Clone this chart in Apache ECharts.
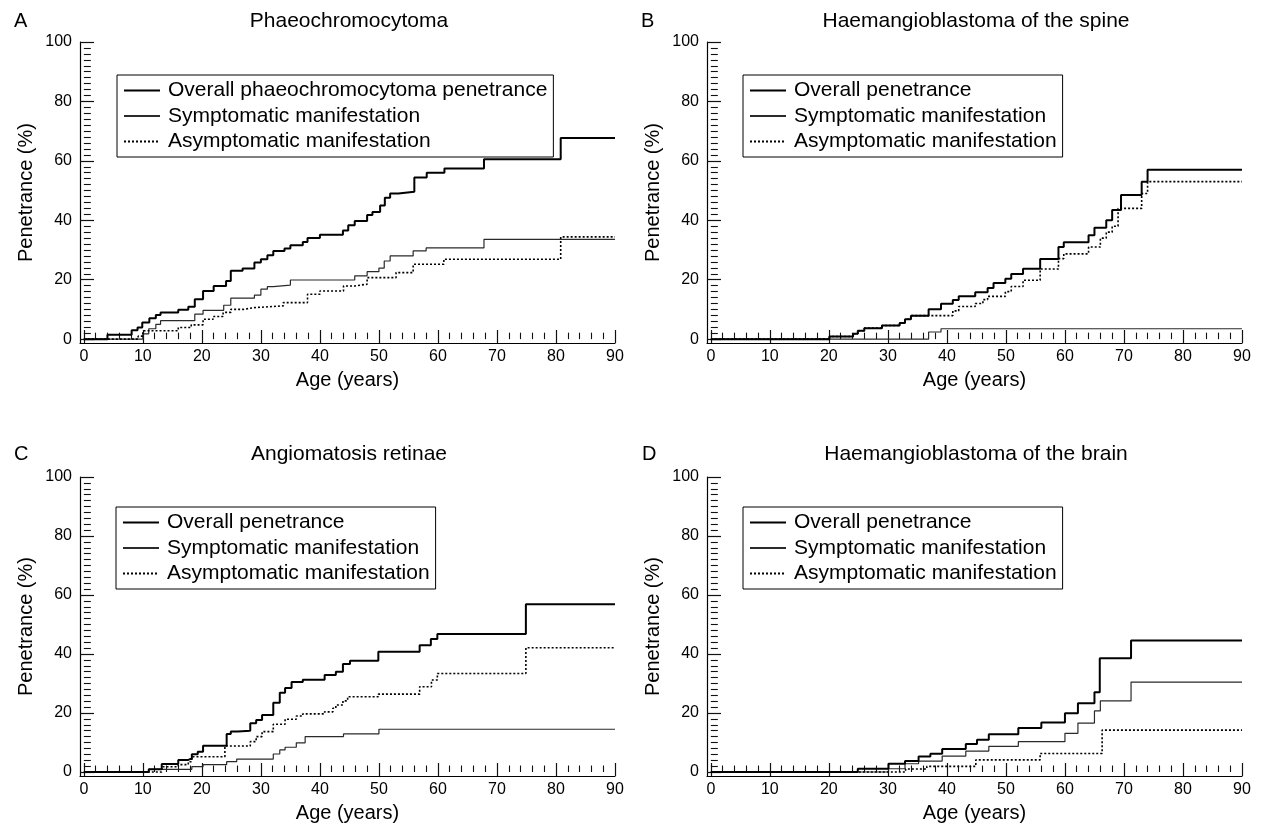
<!DOCTYPE html>
<html><head><meta charset="utf-8">
<script src="https://cdn.jsdelivr.net/npm/echarts@6/dist/echarts.min.js"></script>
<style>html,body{margin:0;padding:0;background:#fff}#c{width:1261px;height:831px}</style>
</head><body><div id="c"></div><script>
// ---------- tick labels ----------
const ageTicks = [0, 10, 20, 30, 40, 50, 60, 70, 80, 90];
const penTicks = [0, 20, 40, 60, 80, 100];

// ---------- text ----------
const panelLetters = ['A', 'B', 'C', 'D'];
const panelTitles = ['Phaeochromocytoma', 'Haemangioblastoma of the spine', 'Angiomatosis retinae', 'Haemangioblastoma of the brain'];
const overallNames = ['Overall phaeochromocytoma penetrance', 'Overall penetrance', 'Overall penetrance', 'Overall penetrance'];
const sympName = 'Symptomatic manifestation';
const asympName = 'Asymptomatic manifestation';
const xName = 'Age (years)';
const yName = 'Penetrance (%)';

// ---------- data: [age, penetrance %] (value holds from that age on) ----------
const phaeoOverall = [[0,0],[4,1.5],[8.1,3],[9.1,3.9],[9.9,5.6],[11.1,7],[12.2,8.1],[13,9],[16,9.9],[17.7,10.9],[18.8,13.4],[20.2,16.2],[22,17.9],[24.1,19.6],[24.9,23],[26.9,23.8],[28.9,25.8],[30,26.9],[31.1,28.2],[32.1,29.7],[34,30.5],[35,31.6],[37.1,32.7],[37.9,34],[40,35.1],[43.9,36.6],[44.8,38.3],[45.9,39.8],[48,41.8],[48.9,42.8],[50.2,45],[51,47.6],[51.9,49],[53.3,49.6],[56,54.4],[58.1,56],[61.1,57.4],[67.8,60.5],[80.8,67.7],[90,67.7]];
const phaeoSymp = [[0,0],[10,1.8],[11,3.5],[12.2,5],[13,6.2],[18.8,8.4],[20.2,9.7],[23.7,11.4],[24.9,13.8],[28.9,14.8],[30,16.8],[31.1,17.7],[32.1,18.2],[35,19.9],[45.9,21.3],[48,22.7],[50,23.9],[50.9,26.3],[51.9,28],[55.8,29.7],[58,30.7],[67.8,33.6],[90,33.6]];
const phaeoAsymp = [[0,0],[9.2,1],[10,2.8],[16,3.9],[18.2,4.8],[20.2,6.7],[21.9,7.6],[23.6,9],[24.9,10],[27,10.6],[28.9,11.2],[33.8,12.3],[37.9,15.1],[40,16.2],[44,17.9],[45.9,18.5],[48,20.7],[52.9,22.4],[55.8,25.2],[61,26.9],[80.8,34.4],[90,34.4]];

const spineOverall = [[0,0],[20.1,0.9],[24.1,1.8],[24.9,2.8],[26,3.7],[29,4.6],[32,5.4],[32.9,6.7],[33.9,7.9],[36.9,10.1],[39,11.9],[41,13.2],[42,14.4],[44.8,15.8],[46.9,17.2],[47.9,18.9],[49.9,20.3],[50.9,21.9],[52.9,23.7],[55.8,27],[58.9,31],[59.8,32.6],[64,35],[65,37.5],[67,40],[68,43.5],[69.5,48.5],[73,53],[74,57],[90,57]];
const spineSymp = [[0,0],[36.9,2.4],[39,3.5],[90,3.5]];
const spineAsymp = [[0,0],[20.1,0.9],[24.1,1.8],[24.9,2.8],[26,3.7],[29,4.6],[32,5.4],[32.9,6.7],[33.9,7.9],[41,9.5],[42,11],[44.8,12],[46.1,13.3],[46.9,14.4],[49.9,16],[50.9,17.7],[52.9,19.8],[55.8,23.6],[58.9,27.1],[59.8,28.7],[64,31],[66,34],[67,36],[68,38],[69,44],[73,49],[74,53],[90,53]];

const retinaOverall = [[0,0],[11,0.9],[13.2,2.7],[16,4.1],[17.7,4.6],[18.3,6],[19.3,6.9],[20.2,8.9],[24.2,12.9],[24.9,13.7],[26.1,14],[28.2,16.5],[29.2,17.6],[30.2,19.3],[32.1,23.5],[33.2,26.9],[34.1,28.5],[35.2,30.5],[37.1,31.3],[40.8,32.9],[42.7,34],[43.9,36.6],[45.1,37.7],[49.9,40.8],[56.9,43],[58.8,45.1],[59.9,46.8],[74.9,56.9],[90,56.9]];
const retinaSymp = [[0,0],[11,0.9],[18.3,1.8],[20.2,2.5],[24.2,3.5],[25.9,4.4],[32.1,6.1],[33.2,7.5],[34.1,8.4],[36,9.9],[37.5,12],[44,12.9],[50,14.5],[90,14.5]];
const retinaAsymp = [[0,0],[13.2,1.8],[16,2.5],[17.7,3.5],[18.3,5.2],[23.9,8.8],[28.2,10.3],[29.2,12],[30.2,13.7],[32.1,16.2],[34.1,17.9],[36,19],[37.1,19.7],[40.8,20.4],[42.2,21.6],[42.7,22.7],[43.9,24.1],[44.7,25.5],[49.9,26.4],[56.9,28.9],[58.9,31.2],[59.9,33.4],[74.9,42.1],[90,42.1]];

const brainOverall = [[0,0],[24.9,1.1],[30.1,2.8],[32.9,3.7],[35.2,5.3],[37.2,6.2],[39.2,7.8],[43.2,9.5],[45.1,10.9],[47.1,12.8],[52.1,14.9],[56,16.8],[60,19.9],[62.2,23.3],[65,27],[65.9,38.6],[71.2,44.6],[90,44.6]];
const brainSymp = [[0,0],[30.1,1.1],[32.9,2.8],[35.2,3.7],[39.2,5.4],[43.2,7.1],[47.1,8.7],[52.1,10.3],[60,13.1],[62.2,16.6],[65,20.7],[66,24.1],[71.2,30.5],[90,30.5]];
const brainAsymp = [[0,0],[33,1],[36.6,1.9],[44.9,4.1],[55.8,6.3],[66.3,14.2],[90,14.2]];

const panelData = [
  [phaeoOverall, phaeoSymp, phaeoAsymp],
  [spineOverall, spineSymp, spineAsymp],
  [retinaOverall, retinaSymp, retinaAsymp],
  [brainOverall, brainSymp, brainAsymp]
];

// ---------- layout & styles ----------
const FONT = '"Liberation Sans", Arial, Helvetica, sans-serif';
const layout = [
  {left: 80,  top: 42,  width: 535, height: 301, yMin: -1.3,  letter: [14, 21],  title: [349, 21],  legend: [117, 75]},
  {left: 707, top: 42,  width: 535, height: 301, yMin: -1.3,  letter: [641, 21], title: [976, 21],  legend: [743, 75]},
  {left: 80,  top: 477, width: 535, height: 299, yMin: -1.35, letter: [14, 454], title: [349, 454], legend: [116, 507]},
  {left: 707, top: 477, width: 535, height: 299, yMin: -1.35, letter: [642, 454], title: [976, 454], legend: [743, 507]}
];
const X_MIN = -0.65;
const styles = [
  {color: '#000', width: 2.0, type: 'solid', z: 3},
  {color: '#2a2a2a', width: 1.2, type: 'solid', z: 2},
  {color: '#000', width: 1.6, type: [2, 2], z: 4}
];

const ageMinor = [];
for (let v = 2; v < 90; v += 2) if (v % 10 !== 0) ageMinor.push(v);
const penMinor = [];
for (let v = 2; v < 100; v += 2) if (v % 20 !== 0) penMinor.push(v);

const grids = [], xAxes = [], yAxes = [], series = [], legends = [], graphics = [];
const tickColor = '#111';

layout.forEach((L, i) => {
  grids.push({left: L.left, top: L.top, width: L.width, height: L.height});
  xAxes.push({
    type: 'value', gridIndex: i, position: 'bottom', min: X_MIN, max: 90,
    name: xName, nameLocation: 'middle', nameGap: 27,
    nameTextStyle: {fontSize: 20, color: '#000', fontFamily: FONT},
    axisLine: {show: true, onZero: false, lineStyle: {color: '#000', width: 1.2}},
    axisTick: {show: true, inside: true, length: 13, customValues: ageTicks, lineStyle: {color: tickColor, width: 1.2}},
    axisLabel: {show: true, customValues: ageTicks, margin: 6, fontSize: 16, color: '#000', fontFamily: FONT},
    splitLine: {show: false}
  });
  xAxes.push({
    type: 'value', gridIndex: i, position: 'bottom', min: X_MIN, max: 90,
    axisLine: {show: false},
    axisTick: {show: true, inside: true, length: 6.5, customValues: ageMinor, lineStyle: {color: tickColor, width: 1.1}},
    axisLabel: {show: false}, splitLine: {show: false}
  });
  yAxes.push({
    type: 'value', gridIndex: i, position: 'left', min: L.yMin, max: 100,
    name: yName, nameLocation: 'middle', nameGap: 44, nameRotate: 90,
    nameTextStyle: {fontSize: 20, color: '#000', fontFamily: FONT},
    axisLine: {show: true, onZero: false, lineStyle: {color: '#000', width: 1.2}},
    axisTick: {show: true, inside: true, length: 14, customValues: penTicks, lineStyle: {color: tickColor, width: 1.2}},
    axisLabel: {show: true, customValues: penTicks, margin: 8, fontSize: 16, color: '#000', fontFamily: FONT},
    splitLine: {show: false}
  });
  yAxes.push({
    type: 'value', gridIndex: i, position: 'left', min: L.yMin, max: 100,
    axisLine: {show: false},
    axisTick: {show: true, inside: true, length: 7, customValues: penMinor, lineStyle: {color: tickColor, width: 1.1}},
    axisLabel: {show: false}, splitLine: {show: false}
  });
  const names = [overallNames[i], sympName, asympName];
  panelData[i].forEach((d, k) => {
    const s = styles[k];
    series.push({
      type: 'line', name: names[k], xAxisIndex: 2 * i, yAxisIndex: 2 * i,
      data: d, step: 'end', symbol: 'none', showSymbol: false, z: s.z,
      lineStyle: {color: s.color, width: s.width, type: s.type},
      itemStyle: {color: s.color}, silent: true, animation: false
    });
  });
  legends.push({
    orient: 'vertical', left: L.legend[0], top: L.legend[1],
    itemWidth: 36, itemHeight: 14, itemGap: 4.5, padding: [5, 6, 5, 6],
    borderColor: '#000', borderWidth: 1, backgroundColor: '#fff',
    selectedMode: false, data: names,
    itemStyle: {opacity: 0, borderWidth: 0},
    textStyle: {fontSize: 21, color: '#000', fontFamily: FONT, padding: [0, 0, 0, 3]}
  });
  graphics.push({type: 'text', x: L.letter[0], y: L.letter[1],
    style: {text: panelLetters[i], fontSize: 20, fontFamily: FONT, fill: '#000', align: 'left', verticalAlign: 'middle'}});
  graphics.push({type: 'text', x: L.title[0], y: L.title[1],
    style: {text: panelTitles[i], fontSize: 21, fontFamily: FONT, fill: '#000', align: 'center', verticalAlign: 'middle'}});
});

const chart = echarts.init(document.getElementById('c'), null, {renderer: 'canvas'});
chart.setOption({
  animation: false,
  backgroundColor: '#fff',
  grid: grids, xAxis: xAxes, yAxis: yAxes, series: series, legend: legends, graphic: graphics
});
</script></body></html>
